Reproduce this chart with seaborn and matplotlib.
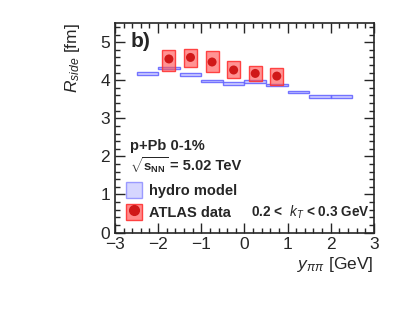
import numpy as np
import pandas as pd
import matplotlib
matplotlib.use('Agg')
import matplotlib.pyplot as plt
import seaborn as sns
from matplotlib.patches import Patch
from matplotlib.lines import Line2D
from matplotlib.ticker import MultipleLocator

sns.set_style('ticks')
plt.rcParams['font.family'] = ['Liberation Sans', 'DejaVu Sans']
plt.rcParams['mathtext.fontset'] = 'custom'
plt.rcParams['mathtext.rm'] = 'Liberation Sans'
plt.rcParams['mathtext.it'] = 'Liberation Sans:italic'
plt.rcParams['mathtext.bf'] = 'Liberation Sans:bold'

# hydro model (bins of 0.5 in y)
hydro_lo = [-2.5, -2.0, -1.5, -1.0, -0.5, 0.0, 0.5, 1.0, 1.5, 2.0]
hydro_val = [4.17, 4.32, 4.15, 3.98, 3.91, 3.97, 3.88, 3.69, 3.57, 3.57]

# ATLAS data with systematic boxes
atlas_y = [-1.75, -1.25, -0.75, -0.25, 0.25, 0.75]
atlas_val = [4.56, 4.60, 4.48, 4.27, 4.18, 4.11]
atlas_sys_hi = [4.80, 4.83, 4.78, 4.51, 4.37, 4.32]
atlas_sys_lo = [4.25, 4.36, 4.23, 4.06, 3.98, 3.87]

df = pd.DataFrame({'y': atlas_y, 'R': atlas_val})

fig = plt.figure(figsize=(4.15, 3.13), dpi=100)
ax = fig.add_axes([0.277, 0.257, 0.624, 0.669])

# hydro boxes
ax.bar(hydro_lo, [0.07] * len(hydro_val), bottom=np.array(hydro_val) - 0.035,
       width=0.5, align='edge', color=(0.6, 0.6, 1.0, 0.45),
       edgecolor=(0.4, 0.4, 1.0, 0.9), linewidth=1.0, zorder=2)

# ATLAS sys boxes
ax.bar(atlas_y, np.array(atlas_sys_hi) - np.array(atlas_sys_lo), bottom=atlas_sys_lo,
       width=0.3, color=(1.0, 0.35, 0.35, 0.65), edgecolor=(1.0, 0.2, 0.2, 0.9),
       linewidth=1.0, zorder=3)

sns.scatterplot(data=df, x='y', y='R', ax=ax, color='#d01818', s=42,
                edgecolor='none', zorder=4, legend=False)

ax.set_xlim(-3, 3)
ax.set_ylim(0, 5.5)
ax.xaxis.set_major_locator(MultipleLocator(1))
ax.xaxis.set_minor_locator(MultipleLocator(0.2))
ax.yaxis.set_major_locator(MultipleLocator(1))
ax.yaxis.set_minor_locator(MultipleLocator(0.2))
ax.tick_params(which='both', direction='in', top=True, right=True, labelsize=12.5, width=1.0)
ax.tick_params(which='major', length=7)
ax.tick_params(which='minor', length=3.5)
for s in ax.spines.values():
    s.set_linewidth(1.2)

ax.set_xlabel(r'$y_{\pi\pi}$ [GeV]', fontsize=12.5, loc='right', labelpad=2)
ax.set_ylabel(r'$R_{side}$ [fm]', fontsize=12.5, loc='top', labelpad=13)

ax.text(0.06, 0.96, 'b)', transform=ax.transAxes, fontsize=15, fontweight='bold', va='top')
ax.text(0.06, 0.415, 'p+Pb 0-1%', transform=ax.transAxes, fontsize=10.5, fontweight='bold', va='center')
ax.text(0.06, 0.318, r'$\sqrt{\mathbf{s}_{\mathbf{NN}}}$', transform=ax.transAxes,
        fontsize=9.5, fontweight='bold', va='center')
ax.text(0.212, 0.318, '= 5.02 TeV', transform=ax.transAxes,
        fontsize=10.5, fontweight='bold', va='center')
ax.text(0.985, 0.095, r'0.2 <  $\mathbf{\mathit{k}}_{T}$ < 0.3 GeV', transform=ax.transAxes, fontsize=9.8,
        fontweight='bold', va='center', ha='right')

h_hydro = Patch(facecolor=(0.6, 0.6, 1.0, 0.4), edgecolor=(0.4, 0.4, 1.0, 0.6))
h_box = Patch(facecolor=(1.0, 0.35, 0.35, 0.7), edgecolor=(1.0, 0.2, 0.2, 0.9))
h_pt = Line2D([], [], marker='o', color='#d01818', linestyle='none', markersize=7)
ax.legend([h_hydro, (h_box, h_pt)], ['hydro model', 'ATLAS data'],
          loc='lower left', bbox_to_anchor=(0.02, 0.03), frameon=False,
          prop={'weight': 'bold', 'size': 10.5}, handlelength=1.1, handleheight=1.4,
          handletextpad=0.5, labelspacing=0.35, borderaxespad=0)

fig.savefig('out.png', dpi=100)
